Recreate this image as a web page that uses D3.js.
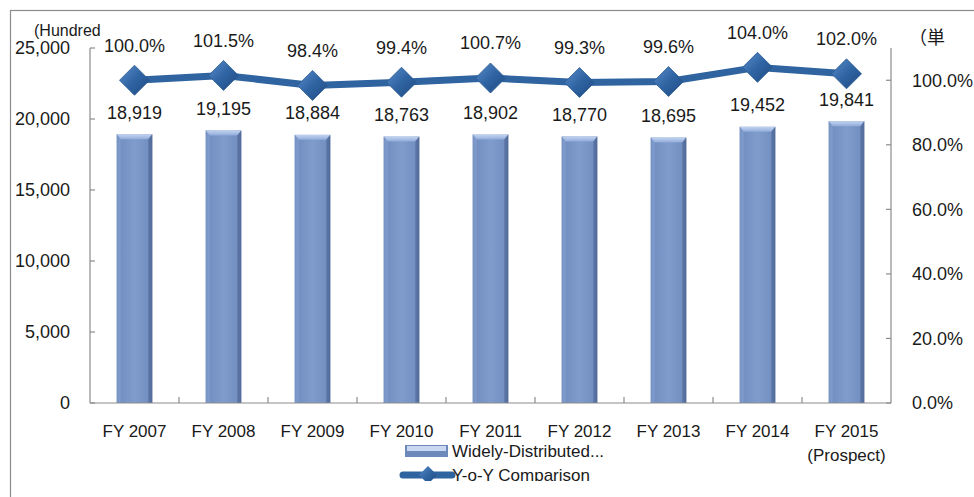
<!DOCTYPE html>
<html><head><meta charset="utf-8">
<script src="https://cdn.jsdelivr.net/npm/d3@7"></script>
<style>
html,body{margin:0;padding:0;background:#fff;overflow:hidden;}
text{font-family:"Liberation Sans",Arial,sans-serif;fill:#1a1a1a;}
</style></head>
<body><svg id="c" width="974" height="497"></svg>
<script>
const categories = ["FY 2007","FY 2008","FY 2009","FY 2010","FY 2011","FY 2012","FY 2013","FY 2014","FY 2015"];
const categorySub = ["","","","","","","","","(Prospect)"];
const shipments = [18919,19195,18884,18763,18902,18770,18695,19452,19841];
const yoy = [100.0,101.5,98.4,99.4,100.7,99.3,99.6,104.0,102.0];
const leftTicks = [0,5000,10000,15000,20000,25000];
const rightTicks = [0,20,40,60,80,100];
const seriesNames = ["Widely-Distributed...","Y-o-Y Comparison"];
const leftUnit = "(Hundred";
const rightUnit = "（単";

const svg = d3.select("#c");
const W=974,H=497;
const L=90,R=891,T=48,B=403;

const defs = svg.append("defs");
const g1 = defs.append("linearGradient").attr("id","barg").attr("x1","0").attr("x2","1").attr("y1","0").attr("y2","0");
[[0,"#5a76aa"],[0.12,"#7390c2"],[0.5,"#809ccc"],[0.88,"#7390c2"],[1,"#566f9f"]].forEach(s=>g1.append("stop").attr("offset",s[0]).attr("stop-color",s[1]));
const g2 = defs.append("linearGradient").attr("id","bevel").attr("x1","0").attr("x2","0").attr("y1","0").attr("y2","1");
[[0,"#c3d4f0"],[1,"#90abda"]].forEach(s=>g2.append("stop").attr("offset",s[0]).attr("stop-color",s[1]));
const g3 = defs.append("linearGradient").attr("id","dia").attr("x1","0").attr("x2","1").attr("y1","0").attr("y2","1");
[[0,"#5b8cc8"],[0.5,"#2f64a3"],[1,"#1f4a80"]].forEach(s=>g3.append("stop").attr("offset",s[0]).attr("stop-color",s[1]));
defs.append("clipPath").attr("id","legclip").append("rect").attr("x",0).attr("y",0).attr("width",W).attr("height",481);

svg.append("rect").attr("x",10.5).attr("y",10.5).attr("width",W).attr("height",H).attr("fill","none").attr("stroke","#8c8c8c").attr("stroke-width",1.2);

const x = d3.scaleBand().domain(categories).range([L,R]).paddingInner(0.6).paddingOuter(0.3);
const xc = d => x(d)+x.bandwidth()/2;
const y = d3.scaleLinear().domain([0,25000]).range([B,T]);
const y2 = d3.scaleLinear().domain([0,110]).range([B,T]);

const bw = x.bandwidth();
const bars = svg.append("g");
categories.forEach((c,i)=>{
  const bx = x(c), by = y(shipments[i]), bh = B-by;
  bars.append("rect").attr("x",bx).attr("y",by).attr("width",bw).attr("height",bh).attr("fill","url(#barg)");
  bars.append("path").attr("d",`M${bx},${by}L${bx+bw},${by}L${bx+bw-4},${by+5}L${bx+4},${by+5}Z`).attr("fill","url(#bevel)");
  bars.append("path").attr("d",`M${bx},${by}L${bx+4},${by+5}L${bx+4},${B}L${bx},${B}Z`).attr("fill","#8aa6d6").attr("opacity",0.6);
  bars.append("path").attr("d",`M${bx+bw},${by}L${bx+bw-4},${by+5}L${bx+bw-4},${B}L${bx+bw},${B}Z`).attr("fill","#4e6796").attr("opacity",0.6);
});

const ax = svg.append("g").attr("stroke","#8c8c8c").attr("stroke-width",1.2);
ax.append("line").attr("x1",L).attr("x2",L).attr("y1",T).attr("y2",B);
ax.append("line").attr("x1",R).attr("x2",R).attr("y1",T).attr("y2",B);
ax.append("line").attr("x1",L).attr("x2",R).attr("y1",B).attr("y2",B);
leftTicks.forEach(t=>ax.append("line").attr("x1",L).attr("x2",L+5).attr("y1",y(t)).attr("y2",y(t)));
rightTicks.forEach(t=>ax.append("line").attr("x1",R-5).attr("x2",R).attr("y1",y2(t)).attr("y2",y2(t)));
const step = x.step();
categories.forEach((c,i)=>{ if(i>0){ const xx = x(c)-x.paddingInner()*step/2; ax.append("line").attr("x1",xx).attr("x2",xx).attr("y1",B-6).attr("y2",B);} });

const fmt = d3.format(",");
leftTicks.forEach(t=>svg.append("text").attr("x",70).attr("y",y(t)).attr("dy","0.36em").attr("text-anchor","end").attr("font-size",18).text(fmt(t)));
rightTicks.forEach(t=>svg.append("text").attr("x",912).attr("y",y2(t)).attr("dy","0.36em").attr("font-size",18).text(t.toFixed(1)+"%"));
categories.forEach((c,i)=>{
  svg.append("text").attr("x",xc(c)).attr("y",431).attr("dy","0.36em").attr("text-anchor","middle").attr("font-size",17).text(c);
  if(categorySub[i]) svg.append("text").attr("x",xc(c)).attr("y",455).attr("dy","0.36em").attr("text-anchor","middle").attr("font-size",17).text(categorySub[i]);
});
svg.append("text").attr("x",34).attr("y",30).attr("dy","0.36em").attr("font-size",16).text(leftUnit);
svg.append("text").attr("x",909).attr("y",38).attr("dy","0.36em").attr("font-size",18).style("font-family","'Noto Sans CJK JP',sans-serif").text(rightUnit);

const line = d3.line().x((d,i)=>xc(categories[i])).y(d=>y2(d));
svg.append("path").datum(yoy).attr("d",line).attr("fill","none").attr("stroke","#2f64a0").attr("stroke-width",7).attr("stroke-linejoin","round");
const dia = (cx,cy,r)=>`M${cx},${cy-r}L${cx+r},${cy}L${cx},${cy+r}L${cx-r},${cy}Z`;
yoy.forEach((v,i)=>{
  svg.append("path").attr("d",dia(xc(categories[i]),y2(v),15)).attr("fill","url(#dia)").attr("stroke","#2a5a94").attr("stroke-width",0.8);
});

shipments.forEach((v,i)=>svg.append("text").attr("x",xc(categories[i])).attr("y",y(v)-22).attr("dy","0.36em").attr("text-anchor","middle").attr("font-size",18).text(fmt(v)));
yoy.forEach((v,i)=>svg.append("text").attr("x",xc(categories[i])).attr("y",y2(v)-35).attr("dy","0.36em").attr("text-anchor","middle").attr("font-size",18).text(v.toFixed(1)+"%"));

const lg = svg.append("g").attr("clip-path","url(#legclip)");
lg.append("rect").attr("x",405).attr("y",445).attr("width",43).attr("height",12).attr("fill","#6d88ba");
lg.append("rect").attr("x",407).attr("y",446).attr("width",39).attr("height",5).attr("fill","#c9d8f0");
lg.append("text").attr("x",452).attr("y",451).attr("dy","0.36em").attr("font-size",17).text(seriesNames[0]);
lg.append("line").attr("x1",403).attr("x2",452).attr("y1",475).attr("y2",475).attr("stroke","#2f64a0").attr("stroke-width",7).attr("stroke-linecap","round");
lg.append("path").attr("d",dia(428,475,9)).attr("fill","url(#dia)");
lg.append("text").attr("x",452).attr("y",475).attr("dy","0.36em").attr("font-size",17).text(seriesNames[1]);
</script></body></html>
